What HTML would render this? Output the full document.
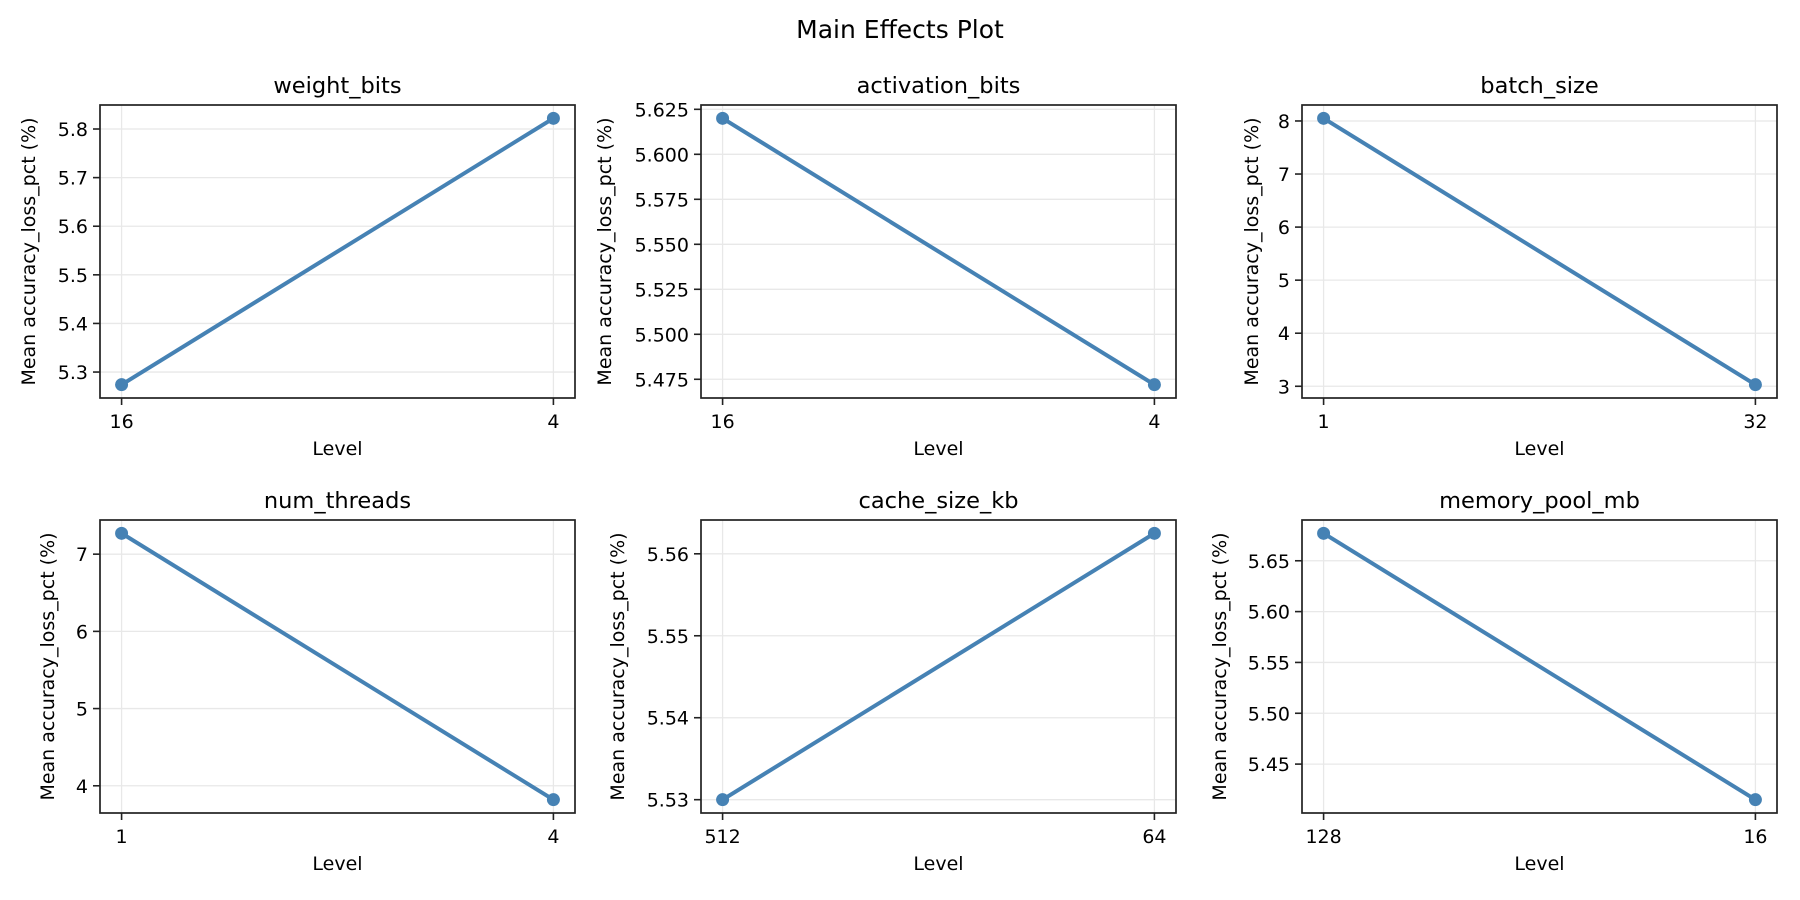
<!DOCTYPE html>
<html><head><meta charset="utf-8"><style>
html,body{margin:0;padding:0;background:#fff;}
svg{display:block;font-family:"DejaVu Sans","Liberation Sans",sans-serif;}
</style></head><body>
<svg id="fig" width="1800" height="900" viewBox="0 0 1800 900">
<text x="900" y="38" text-anchor="middle" font-size="25" fill="#000">Main Effects Plot</text>
</svg>
<script>
const factorNames = ["weight_bits","activation_bits","batch_size","num_threads","cache_size_kb","memory_pool_mb"];
const levelLabels = [["16","4"],["16","4"],["1","32"],["1","4"],["512","64"],["128","16"]];
const meanValues = [[5.274,5.822],[5.620,5.472],[8.05,3.03],[7.27,3.82],[5.530,5.5625],[5.677,5.415]];
const yTicks = [[5.3,5.4,5.5,5.6,5.7,5.8],[5.475,5.5,5.525,5.55,5.575,5.6,5.625],[3,4,5,6,7,8],[4,5,6,7],[5.53,5.54,5.55,5.56],[5.45,5.5,5.55,5.6,5.65]];
const yDecimals = [1,3,0,0,2,2];

const NS="http://www.w3.org/2000/svg";
const svg=document.getElementById('fig');
function mk(tag,attrs,parent){const e=document.createElementNS(NS,tag);for(const k in attrs)e.setAttribute(k,attrs[k]);(parent||svg).appendChild(e);return e;}
const lefts=[100,701,1302], tops=[105,520], W=475, H=[293,293];
const ylabOff=[71,96,50,52,83,82];
for(let p=0;p<6;p++){
  const col=p%3,row=Math.floor(p/3);
  const L=lefts[col],T=tops[row],R=L+W,B=T+H[row];
  const g=mk('g',{});
  
  
  const vals=meanValues[p];
  const mn=Math.min(...vals),mx=Math.max(...vals),r=mx-mn||1;
  const y0=mn-0.05*r,y1=mx+0.05*r;
  const ys=v=>B-(v-y0)/(y1-y0)*(B-T);
  const xs=i=>L+(i+0.05)/1.1*W;
  // grid
  yTicks[p].forEach(t=>{const y=ys(t);
    const gl=mk('line',{x1:L,x2:R,y1:y,y2:y,stroke:'#e8e8e8','stroke-width':1.3},g);
    
    
    const tk=mk('line',{x1:L-7,x2:L,y1:y,y2:y,stroke:'#222','stroke-width':1.6},g);
    
    
    const tl=mk('text',{x:L-12,y:y+7,'text-anchor':'end','font-size':19,fill:'#000'},g);
    tl.textContent=t.toFixed(yDecimals[p]);
    
    
  });
  levelLabels[p].forEach((lab,i)=>{const x=xs(i);
    const gl=mk('line',{x1:x,x2:x,y1:T,y2:B,stroke:'#e8e8e8','stroke-width':1.3},g);
    
    
    const tk=mk('line',{x1:x,x2:x,y1:B,y2:B+7,stroke:'#222','stroke-width':1.6},g);
    
    
    const tl=mk('text',{x:x,y:B+30,'text-anchor':'middle','font-size':19,fill:'#000'},g);
    tl.textContent=lab;
    
    
  });
  const pts=vals.map((v,i)=>xs(i)+','+ys(v)).join(' ');
  const ln=mk('polyline',{points:pts,fill:'none',stroke:'#4682b4','stroke-width':4},g);
  
  
  vals.forEach((v,i)=>{const c=mk('circle',{cx:xs(i),cy:ys(v),r:6.5,fill:'#4682b4'},g);
    
    });
  const fr=mk('rect',{x:L,y:T,width:W,height:B-T,fill:'none',stroke:'#222','stroke-width':1.7},g);
  
  
  const tt=mk('text',{x:L+W/2,y:T-12,'text-anchor':'middle','font-size':22.5,fill:'#000'},g);
  tt.textContent=factorNames[p];
  
  
  const xl=mk('text',{x:L+W/2,y:B+57,'text-anchor':'middle','font-size':19,fill:'#000'},g);
  xl.textContent='Level';
  
  
  const cx=L-ylabOff[p],cy=(T+B)/2;
  const yl=mk('text',{x:cx,y:cy,'text-anchor':'middle','dominant-baseline':'central','font-size':19,fill:'#000',transform:`rotate(-90 ${cx} ${cy})`},g);
  yl.textContent='Mean accuracy_loss_pct (%)';
  
  
}
</script>
</body></html>
